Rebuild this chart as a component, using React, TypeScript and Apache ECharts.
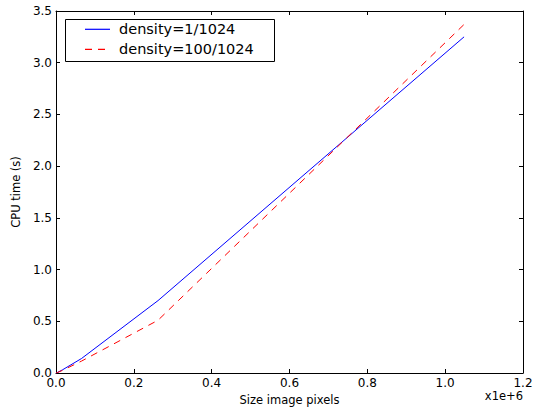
import React, { useEffect, useRef } from "react";
import * as echarts from "echarts";

const sizes = [0, 4096, 16384, 65536, 262144, 1048576];
const sparseTimes = [0, 0.006, 0.03, 0.14, 0.70, 3.25];
const denseTimes = [0, 0.005, 0.025, 0.115, 0.51, 3.37];
const seriesNames = ["density=1/1024", "density=100/1024"];
const seriesColors = ["#0000ff", "#ff0000"];

const FONT = "DejaVu Sans";

export default function App() {
  const ref = useRef<HTMLDivElement>(null);
  useEffect(() => {
    if (!ref.current) return;
    document.body.style.margin = "0";
    const chart = echarts.init(ref.current, undefined, { renderer: "svg" });
    const axisLine = { show: true, onZero: false, lineStyle: { color: "#000", width: 1 } };
    const tick = { show: true, inside: true, length: 4, lineStyle: { color: "#000" } };
    const dash = [7, 6];

    const legendItems: any[] = [
      {
        type: "rect",
        silent: true,
        shape: { x: 65.5, y: 19.5, width: 209, height: 42 },
        style: { fill: "#fff", stroke: "#000", lineWidth: 1 },
        z: 100,
      },
    ];
    seriesNames.forEach((name, i) => {
      const cy = 29.3 + i * 20;
      legendItems.push({
        type: "polyline",
        silent: true,
        shape: { points: [[85, cy], [110, cy]] },
        style: {
          stroke: seriesColors[i],
          fill: "none",
          lineWidth: 1.2,
          lineDash: i === 0 ? null : dash,
        },
        z: 101,
      });
      legendItems.push({
        type: "text",
        silent: true,
        x: 119,
        y: cy,
        style: {
          text: name,
          fontFamily: FONT,
          fontSize: 14.5,
          fill: "#000",
          verticalAlign: "middle",
          align: "left",
        },
        z: 101,
      });
    });

    chart.setOption({
      animation: false,
      backgroundColor: "#fff",
      grid: { left: 56, right: 20, top: 11, bottom: 34, outerBoundsMode: "none", containLabel: false },
      xAxis: [
        {
          type: "value",
          min: 0,
          max: 1200000,
          interval: 200000,
          axisLine,
          axisTick: tick,
          splitLine: { show: false },
          axisLabel: {
            fontFamily: FONT,
            fontSize: 12,
            color: "#000",
            margin: 4,
            formatter: (v: number) => (v / 1e6).toFixed(1),
          },
          name: "Size image pixels",
          nameLocation: "middle",
          nameGap: 18,
          nameTextStyle: { fontFamily: FONT, fontSize: 11.5, color: "#000" },
        },
        {
          type: "value",
          position: "top",
          min: 0,
          max: 1200000,
          interval: 200000,
          axisLine,
          axisTick: tick,
          splitLine: { show: false },
          axisLabel: { show: false },
        },
      ],
      yAxis: [
        {
          type: "value",
          min: 0,
          max: 3.5,
          interval: 0.5,
          axisLine,
          axisTick: tick,
          splitLine: { show: false },
          axisLabel: {
            fontFamily: FONT,
            fontSize: 12,
            color: "#000",
            margin: 4,
            formatter: (v: number) => v.toFixed(1),
          },
          name: "CPU time (s)",
          nameLocation: "middle",
          nameGap: 30,
          nameTextStyle: { fontFamily: FONT, fontSize: 11.5, color: "#000" },
        },
        {
          type: "value",
          position: "right",
          min: 0,
          max: 3.5,
          interval: 0.5,
          axisLine,
          axisTick: tick,
          splitLine: { show: false },
          axisLabel: { show: false },
        },
      ],
      graphic: [
        {
          type: "text",
          right: 20,
          top: 390,
          style: { text: "x1e+6", fontFamily: FONT, fontSize: 11.5, fill: "#000" },
        },
        ...legendItems,
      ],
      series: [
        {
          name: seriesNames[0],
          type: "line",
          data: sizes.map((s, i) => [s, sparseTimes[i]]),
          symbol: "none",
          color: seriesColors[0],
          lineStyle: { color: seriesColors[0], width: 1 },
        },
        {
          name: seriesNames[1],
          type: "line",
          data: sizes.map((s, i) => [s, denseTimes[i]]),
          symbol: "none",
          color: seriesColors[1],
          lineStyle: { color: seriesColors[1], width: 1, type: dash },
        },
      ],
    });
    return () => chart.dispose();
  }, []);
  return <div ref={ref} style={{ width: 543, height: 407 }} />;
}
